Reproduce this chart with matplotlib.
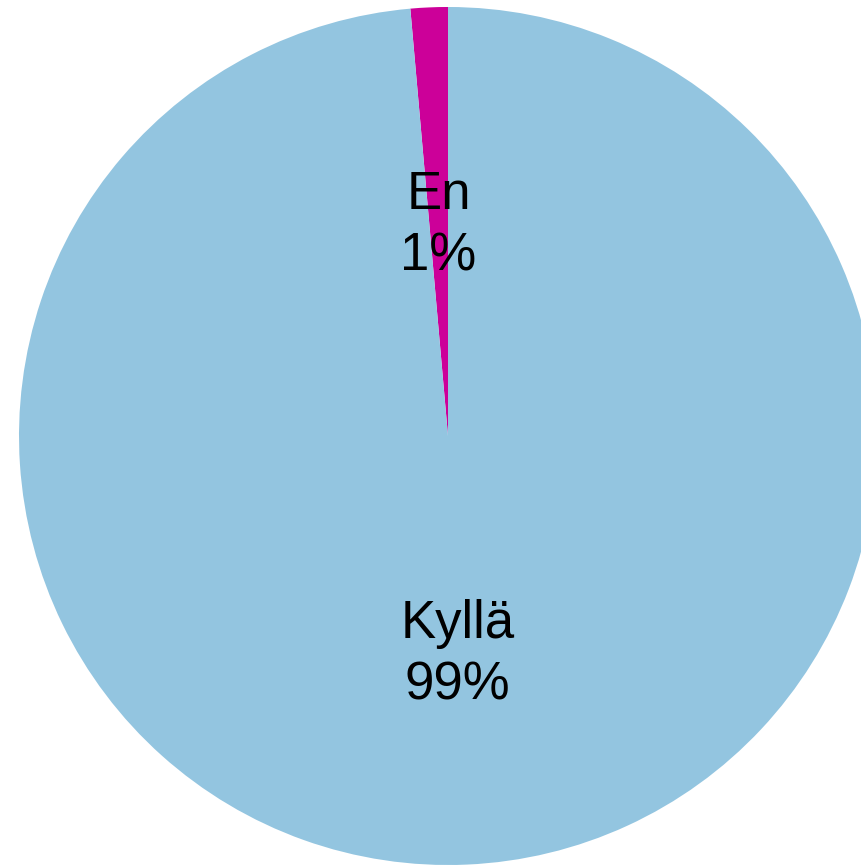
import matplotlib
matplotlib.use("Agg")
import matplotlib.pyplot as plt
from matplotlib.transforms import offset_copy

categories = ["En", "Kyllä"]
values = [1.4, 98.6]
colors = ["#CC0099", "#93C5E0"]

plt.rcParams['font.family'] = ['Liberation Sans', 'DejaVu Sans']

fig = plt.figure(figsize=(8.61, 8.65), dpi=100)
ax = fig.add_axes([0, 0, 1, 1])
wedges, texts, autotexts = ax.pie(values, colors=colors, startangle=90, counterclock=True,
                                  autopct='%1.0f%%', pctdistance=0.5,
                                  wedgeprops=dict(linewidth=0))
for cat, at in zip(categories, autotexts):
    at.set_text(f"{cat}\n{at.get_text()}")
    at.set_fontsize(38)
    at.set_color('black')
    at.set_linespacing(1.3)
    at.set_ha('center')
    at.set_va('center')
    at.set_transform(offset_copy(ax.transData, fig=fig, x=0, y=-3, units='points'))
ax.set_xlim(-1.0443, 0.9627)
ax.set_ylim(-1.0, 1.0163)
ax.set_aspect('auto')
ax.axis('off')
fig.savefig("out.png", dpi=100)
